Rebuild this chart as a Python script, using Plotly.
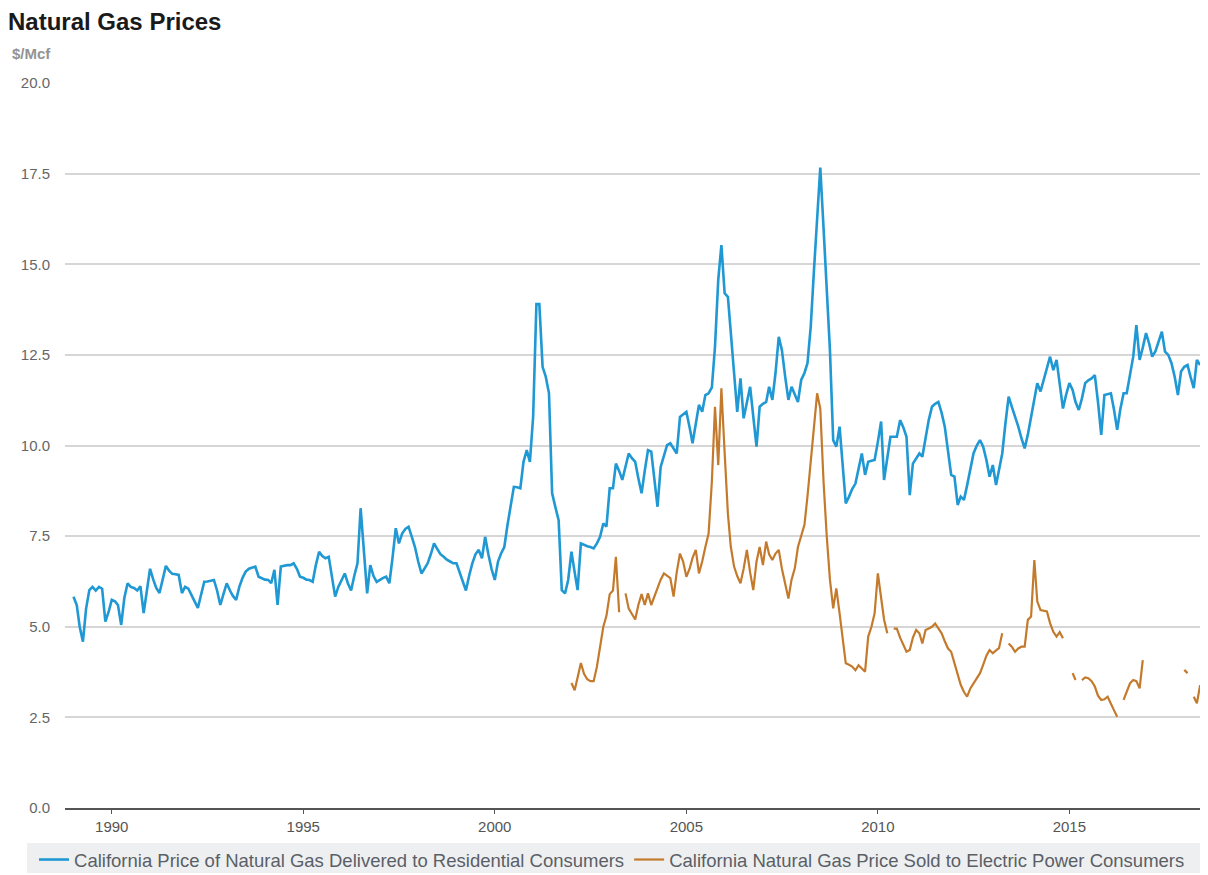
import pandas as pd
import plotly.graph_objects as go

# Monthly values, Jan 1989 onward ($/Mcf)
residential = [
    # 1989
    5.83, 5.6, 5.0, 4.59, 5.5, 6.01, 6.1, 6.0, 6.1, 6.05, 5.14, 5.4,
    # 1990
    5.74, 5.7, 5.6, 5.05, 5.8, 6.2, 6.1, 6.07, 6.0, 6.12, 5.38, 6.0,
    # 1991
    6.6, 6.3, 6.07, 5.93, 6.3, 6.68, 6.55, 6.46, 6.45, 6.43, 5.93, 6.1,
    # 1992
    6.05, 5.85, 5.7, 5.52, 5.9, 6.24, 6.25, 6.27, 6.29, 6.0, 5.6, 5.9,
    # 1993
    6.2, 6.0, 5.85, 5.74, 6.1, 6.35, 6.52, 6.6, 6.62, 6.66, 6.38, 6.33,
    # 1994
    6.3, 6.29, 6.2, 6.57, 5.6, 6.66, 6.68, 6.7, 6.7, 6.75, 6.6, 6.38,
    # 1995
    6.35, 6.3, 6.29, 6.24, 6.7, 7.07, 6.95, 6.89, 6.93, 6.4, 5.83, 6.1,
    # 1996
    6.3, 6.47, 6.2, 6.0, 6.4, 6.75, 8.27, 7.0, 5.92, 6.7, 6.4, 6.24,
    # 1997
    6.3, 6.35, 6.38, 6.2, 6.9, 7.72, 7.3, 7.57, 7.7, 7.76, 7.48, 7.2,
    # 1998
    6.8, 6.47, 6.6, 6.75, 7.0, 7.3, 7.15, 7.0, 6.93, 6.85, 6.8, 6.75,
    # 1999
    6.75, 6.5, 6.25, 6.0, 6.4, 6.75, 7.0, 7.12, 6.89, 7.48, 7.0, 6.6,
    # 2000
    6.29, 6.8, 7.02, 7.2, 7.8, 8.4, 8.86, 8.85, 8.82, 9.55, 9.87, 9.55,
    # 2001
    10.8, 13.9, 13.9, 12.17, 11.9, 11.44, 8.68, 8.3, 7.94, 6.01, 5.92, 6.29,
    # 2002
    7.07, 6.5, 6.01, 7.3, 7.25, 7.22, 7.2, 7.16, 7.3, 7.48, 7.85, 7.76,
    # 2003
    8.82, 8.82, 9.5, 9.3, 9.05, 9.4, 9.78, 9.65, 9.55, 9.1, 8.68, 9.3,
    # 2004
    9.87, 9.83, 9.0, 8.31, 9.41, 9.7, 10.01, 10.06, 9.9, 9.78, 10.79, 10.85,
    # 2005
    10.93, 10.5, 10.06, 10.6, 11.12, 10.93, 11.39, 11.44, 11.6, 12.73, 14.57, 15.53,
    # 2006
    14.2, 14.1, 13.19, 12.0, 10.93, 11.85, 10.75, 11.2, 11.62, 10.8, 9.97, 11.07,
    # 2007
    11.15, 11.2, 11.62, 11.26, 12.0, 13.0, 12.63, 11.9, 11.26, 11.62, 11.4, 11.2,
    # 2008
    11.81, 12.0, 12.27, 13.28, 14.8, 16.13, 17.67, 16.0, 14.2, 12.63, 10.15, 9.97,
    # 2009
    10.52, 9.4, 8.4, 8.59, 8.8, 8.95, 9.4, 9.78, 9.19, 9.55, 9.58, 9.6,
    # 2010
    10.1, 10.66, 9.05, 9.7, 10.24, 10.24, 10.24, 10.7, 10.5, 10.24, 8.63, 9.5,
    # 2011
    9.65, 9.78, 9.69, 10.2, 10.7, 11.07, 11.15, 11.2, 10.9, 10.52, 9.8, 9.19,
    # 2012
    9.14, 8.36, 8.59, 8.5, 8.9, 9.4, 9.78, 10.0, 10.15, 9.97, 9.6, 9.14,
    # 2013
    9.46, 8.91, 9.3, 9.78, 10.6, 11.35, 11.07, 10.8, 10.52, 10.2, 9.92, 10.3,
    # 2014
    10.79, 11.2, 11.72, 11.49, 11.8, 12.08, 12.45, 12.08, 12.36, 11.7, 11.02, 11.4,
    # 2015
    11.72, 11.53, 11.2, 10.98, 11.3, 11.72, 11.8, 11.85, 11.94, 11.2, 10.29, 11.39,
    # 2016
    11.42, 11.44, 11.0, 10.43, 11.0, 11.44, 11.44, 11.9, 12.45, 13.32, 12.36, 12.7,
    # 2017
    13.1, 12.8, 12.45, 12.6, 12.9, 13.14, 12.59, 12.5, 12.27, 11.9, 11.39, 12.04,
    # 2018
    12.17, 12.22, 11.9, 11.58, 12.36, 12.22,
]

# Monthly values, Jan 2002 onward ($/Mcf); None = not reported
electric = [
    # 2002
    3.45, 3.25, 3.6, 4.0, 3.7, 3.55, 3.5, 3.5, 3.9, 4.5, 5.0, 5.3,
    # 2003
    5.9, 6.0, 6.93, 5.4, None, 5.92, 5.5, 5.35, 5.2, 5.6, 5.9, 5.6,
    # 2004
    5.92, 5.6, 5.83, 6.1, 6.3, 6.47, 6.4, 6.34, 5.83, 6.5, 7.02, 6.8,
    # 2005
    6.38, 6.6, 6.9, 7.12, 6.47, 6.8, 7.2, 7.57, 9.0, 11.07, 9.46, 11.58,
    # 2006
    9.8, 8.12, 7.2, 6.66, 6.4, 6.2, 6.6, 7.12, 6.5, 6.01, 6.8, 7.2,
    # 2007
    6.7, 7.35, 7.0, 6.84, 7.02, 7.12, 6.6, 6.2, 5.78, 6.3, 6.61, 7.2,
    # 2008
    7.5, 7.81, 8.6, 9.5, 10.5, 11.44, 11.02, 9.0, 7.48, 6.3, 5.51, 6.06,
    # 2009
    5.37, 4.6, 3.99, 3.95, 3.9, 3.8, 3.94, 3.85, 3.76, 4.73, 5.0, 5.37,
    # 2010
    6.47, 5.8, 5.2, 4.82, None, 4.95, 4.95, 4.7, 4.5, 4.31, 4.36, 4.7,
    # 2011
    4.91, 4.82, 4.54, 4.91, 4.95, 5.0, 5.09, 4.95, 4.82, 4.6, 4.4, 4.31,
    # 2012
    4.0, 3.72, 3.4, 3.2, 3.07, 3.3, 3.44, 3.6, 3.72, 3.95, 4.2, 4.36,
    # 2013
    4.27, 4.35, 4.41, 4.82, None, 4.54, 4.45, 4.31, 4.4, 4.45, 4.45, 5.19,
    # 2014
    5.28, 6.84, 5.7, 5.46, 5.45, 5.42, 5.1, 4.86, 4.73, 4.85, 4.68, None,
    # 2015
    None, 3.72, 3.53, None, 3.53, 3.6, 3.58, 3.5, 3.35, 3.1, 2.98, 3.0,
    # 2016
    3.07, 2.9, 2.7, 2.52, None, 2.98, 3.2, 3.44, 3.53, 3.5, 3.30, 4.08,
    # 2017
    None, None, None, None, None, None, None, None, None, None, None, None,
    # 2018
    3.81, 3.72, None, 3.07, 2.89, 3.39,
]

res_dates = pd.date_range("1989-01-01", periods=len(residential), freq="MS")
ele_dates = pd.date_range("2002-01-01", periods=len(electric), freq="MS")

tick_years = ["1990", "1995", "2000", "2005", "2010", "2015"]
y_ticks = [0, 2.5, 5, 7.5, 10, 12.5, 15, 17.5, 20]

res_name = "California Price of Natural Gas Delivered to Residential Consumers"
ele_name = "California Natural Gas Price Sold to Electric Power Consumers"

fig = go.Figure()
fig.add_trace(go.Scatter(x=res_dates, y=residential, mode="lines", name=res_name,
                         line=dict(color="#1f98d3", width=2.6)))
fig.add_trace(go.Scatter(x=ele_dates, y=electric, mode="lines", name=ele_name,
                         connectgaps=False,
                         line=dict(color="#c47a2c", width=2.2)))

# page body adds an 8px offset; the figure runs a little past the window bottom
# so the legend never forces the plot area to shrink
fig.update_layout(
    width=1200, height=900,
    margin=dict(l=57, r=0, t=75, b=100),
    paper_bgcolor="white", plot_bgcolor="white",
    font=dict(family="Liberation Sans, Arial, sans-serif", color="#666666", size=15),
    title=dict(text="<b>Natural Gas Prices</b>", x=0.0, xanchor="left",
               y=1 - 14 / 900, yanchor="middle",
               font=dict(size=24, color="#1a1a1a")),
    showlegend=True,
    legend=dict(orientation="h", x=-0.0271, xanchor="left", y=-0.0455, yanchor="top",
                bgcolor="rgba(0,0,0,0)", font=dict(size=18.5, color="#5a5f66"),
                itemwidth=30, tracegroupgap=0),
    shapes=[dict(type="rect", xref="paper", yref="paper",
                 x0=-0.0332, x1=0.993, y0=-0.0897, y1=-0.0483,
                 fillcolor="#eeeff1", line=dict(width=0), layer="below")],
    annotations=[dict(text="<b>$/Mcf</b>", xref="paper", yref="paper", x=-0.048, y=1.026,
                      xanchor="left", yanchor="bottom", showarrow=False,
                      font=dict(size=15, color="#939393"))],
)

fig.update_xaxes(
    type="date",
    range=["1988-10-12", "2018-08-15"],
    tickvals=[pd.Timestamp(y + "-01-01") for y in tick_years],
    ticktext=tick_years,
    showgrid=False, zeroline=False,
    showline=True, linecolor="#555555", linewidth=2,
    ticks="outside", ticklen=4, tickcolor="#555555",
    tickfont=dict(size=15, color="#555555"),
)
fig.update_yaxes(
    range=[0, 20],
    tickvals=y_ticks, tickformat=".1f",
    showgrid=True, gridcolor="#d6d6d6", gridwidth=2,
    zeroline=False, showline=False, ticks="",
    ticklabelstandoff=14,
    tickfont=dict(size=15, color="#666666"),
)

fig.write_html("out.html")
